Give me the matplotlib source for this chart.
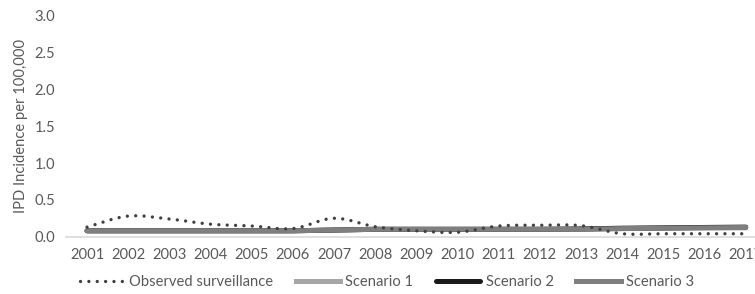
import matplotlib
matplotlib.use("Agg")
import matplotlib.pyplot as plt
from matplotlib.path import Path
from matplotlib.patches import PathPatch
from matplotlib.lines import Line2D

plt.rcParams['font.family'] = ['Lato', 'DejaVu Sans']

years = [2001, 2002, 2003, 2004, 2005, 2006, 2007, 2008, 2009,
         2010, 2011, 2012, 2013, 2014, 2015, 2016, 2017]
observed = [0.13, 0.28, 0.24, 0.17, 0.145, 0.11, 0.25, 0.135, 0.08,
            0.06, 0.145, 0.155, 0.15, 0.04, 0.04, 0.04, 0.04]
scenario1 = [0.08, 0.08, 0.08, 0.08, 0.08, 0.08, 0.09, 0.10, 0.10,
             0.10, 0.10, 0.10, 0.10, 0.11, 0.115, 0.12, 0.12]
scenario2 = [0.08, 0.08, 0.08, 0.08, 0.08, 0.08, 0.09, 0.10, 0.10,
             0.10, 0.10, 0.10, 0.105, 0.115, 0.12, 0.125, 0.13]
scenario3 = [0.08, 0.08, 0.08, 0.08, 0.08, 0.08, 0.09, 0.10, 0.10,
             0.10, 0.10, 0.10, 0.10, 0.11, 0.115, 0.12, 0.125]
yticks = [0.0, 0.5, 1.0, 1.5, 2.0, 2.5, 3.0]

text_col = "#595959"
fs = 10.6

fig = plt.figure(figsize=(7.55, 2.94), dpi=100)
ax = fig.add_axes([0.088, 0.195, 0.927, 0.751])

x = list(range(len(years)))


def smooth_path(xs, ys):
    # Excel-style smoothed line: cubic bezier through each point
    verts = [(xs[0], ys[0])]
    codes = [Path.MOVETO]
    n = len(xs)
    for i in range(n - 1):
        x0, y0 = (xs[i - 1], ys[i - 1]) if i > 0 else (xs[i], ys[i])
        x1, y1 = xs[i], ys[i]
        x2, y2 = xs[i + 1], ys[i + 1]
        x3, y3 = (xs[i + 2], ys[i + 2]) if i + 2 < n else (xs[i + 1], ys[i + 1])
        c1 = (x1 + (x2 - x0) / 6, y1 + (y2 - y0) / 6)
        c2 = (x2 - (x3 - x1) / 6, y2 - (y3 - y1) / 6)
        verts += [c1, c2, (x2, y2)]
        codes += [Path.CURVE4] * 3
    return Path(verts, codes)


ax.plot(x, scenario1, color="#a6a6a6", lw=3.6, solid_capstyle="round", zorder=2)
ax.plot(x, scenario2, color="#1a1a1a", lw=3.6, solid_capstyle="round", zorder=3)
ax.plot(x, scenario3, color="#7f7f7f", lw=3.6, solid_capstyle="round", zorder=4)

obs = PathPatch(smooth_path(x, observed), fill=False, edgecolor="#404040",
                lw=2.4, linestyle=(0, (0.01, 2.5)), capstyle="round", zorder=5)
ax.add_patch(obs)

ax.set_xlim(-0.5, len(years) - 0.5)
ax.set_ylim(0, 3.0)
ax.set_xticks(x)
ax.set_xticklabels([str(y) for y in years])
ax.set_yticks(yticks)
ax.set_yticklabels([f"{v:.1f}" for v in yticks])
ax.tick_params(axis="both", length=0, labelsize=fs, colors=text_col)
ax.tick_params(axis="x", pad=8)
ax.tick_params(axis="y", pad=8)
for s in ["top", "right", "left"]:
    ax.spines[s].set_visible(False)
ax.spines["bottom"].set_color("#d9d9d9")
ax.spines["bottom"].set_linewidth(1.2)
ax.set_ylabel("IPD Incidence per 100,000", color=text_col, fontsize=fs, labelpad=5)

handles = [
    Line2D([], [], color="#404040", lw=2.4, linestyle=(0, (0.01, 2.5)), dash_capstyle="round"),
    Line2D([], [], color="#a6a6a6", lw=3.6),
    Line2D([], [], color="#1a1a1a", lw=3.6, solid_capstyle="round"),
    Line2D([], [], color="#7f7f7f", lw=3.6),
]
labels = ["Observed surveillance", "Scenario 1", "Scenario 2", "Scenario 3"]
leg = fig.legend(handles, labels, loc="center left", bbox_to_anchor=(0.098, 0.04),
                 ncol=4, frameon=False, fontsize=fs, handlelength=3.0,
                 handletextpad=0.35, columnspacing=1.55, borderaxespad=0)
for t in leg.get_texts():
    t.set_color(text_col)

fig.savefig("out.png", dpi=100)
